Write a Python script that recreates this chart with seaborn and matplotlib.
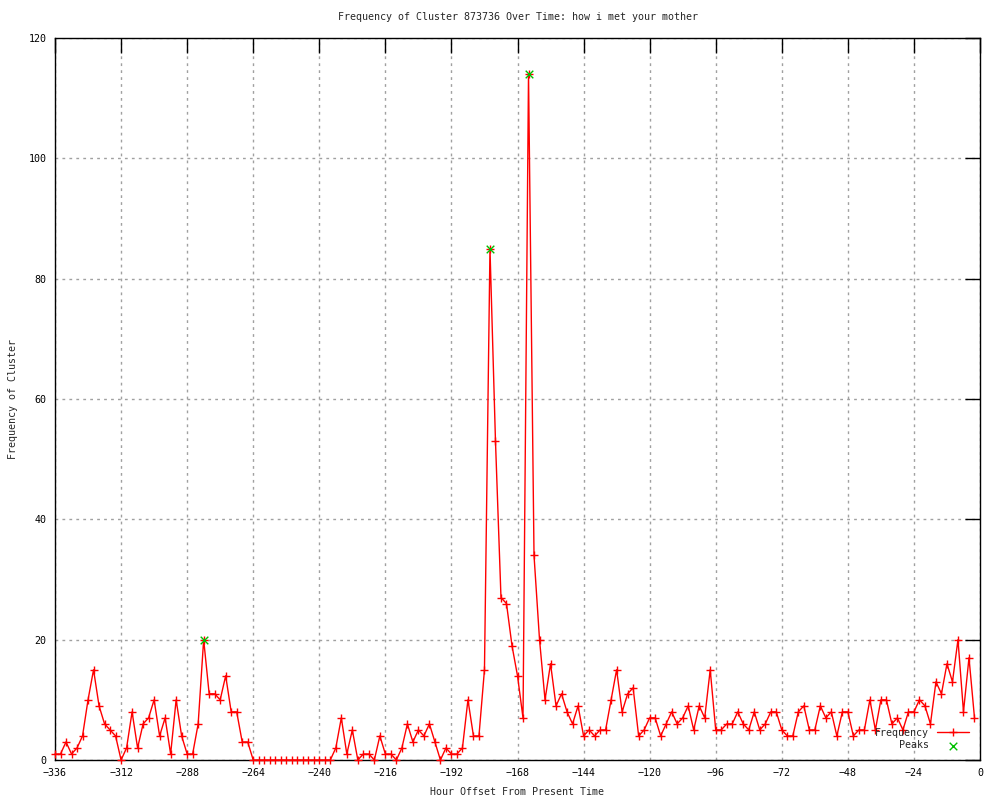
import numpy as np
import pandas as pd
import seaborn as sns
import matplotlib.pyplot as plt

# hourly offsets, one reading every 2 hours
hours = list(range(-336, 0, 2))

freq = [1, 1, 3, 1, 2, 4, 10, 15, 9, 6,
        5, 4, 0, 2, 8, 2, 6, 7, 10, 4,
        7, 1, 10, 4, 1, 1, 6, 20, 11, 11,
        10, 14, 8, 8, 3, 3, 0, 0, 0, 0,
        0, 0, 0, 0, 0, 0, 0, 0, 0, 0,
        0, 2, 7, 1, 5, 0, 1, 1, 0, 4,
        1, 1, 0, 2, 6, 3, 5, 4, 6, 3,
        0, 2, 1, 1, 2, 10, 4, 4, 15, 85,
        53, 27, 26, 19, 14, 7, 114, 34, 20, 10,
        16, 9, 11, 8, 6, 9, 4, 5, 4, 5,
        5, 10, 15, 8, 11, 12, 4, 5, 7, 7,
        4, 6, 8, 6, 7, 9, 5, 9, 7, 15,
        5, 5, 6, 6, 8, 6, 5, 8, 5, 6,
        8, 8, 5, 4, 4, 8, 9, 5, 5, 9,
        7, 8, 4, 8, 8, 4, 5, 5, 10, 5,
        10, 10, 6, 7, 5, 8, 8, 10, 9, 6,
        13, 11, 16, 13, 20, 8, 17, 7]

peak_hours = [-282, -178, -164]
peak_freq = [20, 85, 114]

df = pd.DataFrame({"hour": hours, "freq": freq})
peaks = pd.DataFrame({"hour": peak_hours, "freq": peak_freq})

sns.set_style("white")
plt.rcParams['font.family'] = ['DejaVu Sans Mono']
plt.rcParams['font.size'] = 7.2

fig = plt.figure(figsize=(10, 8), dpi=100)
ax = fig.add_axes([0.055, 0.05, 0.925, 0.9025])

sns.lineplot(data=df, x="hour", y="freq", ax=ax, color="red", linewidth=1.0,
             marker="+", markersize=6, markeredgewidth=1.0, markeredgecolor="red",
             label="Frequency", clip_on=False, zorder=3)
sns.scatterplot(data=peaks, x="hour", y="freq", ax=ax, color="#00c000", marker="x",
                s=30, linewidth=1.0, label="Peaks", clip_on=False, zorder=4)

ax.set_xlim(-336, 0)
ax.set_ylim(0, 120)
ax.set_xticks(range(-336, 1, 24))
ax.set_yticks(range(0, 121, 20))
ax.grid(True, color="#a0a0a0", linestyle=(0, (2, 3)), linewidth=1.0)
ax.tick_params(direction="in", length=11, width=1, top=True, right=True,
               labeltop=False, labelright=False, pad=6, colors="black", labelsize=7.2)
for s in ax.spines.values():
    s.set_color("black")
    s.set_linewidth(1.0)

ax.set_title("Frequency of Cluster 873736 Over Time: how i met your mother",
             fontsize=7.2, pad=13)
ax.set_xlabel("Hour Offset From Present Time", fontsize=7.2, labelpad=6)
ax.set_ylabel("Frequency of Cluster", fontsize=7.2, labelpad=8)

leg = ax.legend(loc="lower right", bbox_to_anchor=(0.9985, 0.0), frameon=False,
                markerfirst=False, handlelength=3.2, handletextpad=0.8,
                labelspacing=0.3, fontsize=7.2, borderaxespad=0.55)
for t in leg.get_texts():
    t.set_ha("right")

fig.savefig("out.png", dpi=100)
